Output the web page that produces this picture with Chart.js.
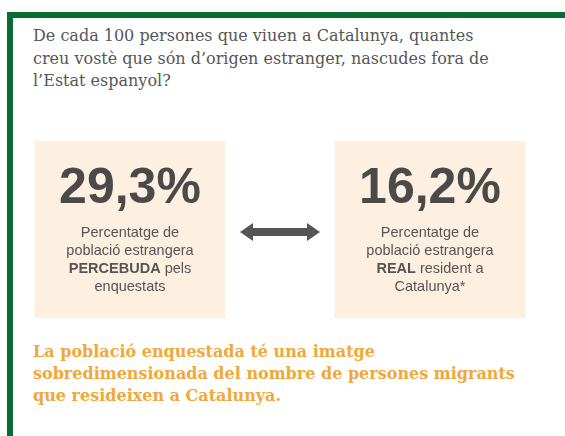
<!DOCTYPE html>
<html>
<head>
<meta charset="utf-8">
<script src="https://cdn.jsdelivr.net/npm/chart.js@4"></script>
<style>
  html, body { margin: 0; padding: 0; background: #fff; }
  body { width: 565px; height: 436px; position: relative; overflow: hidden; }
  #frame {
    position: absolute; left: 7px; top: 12px; width: 700px; height: 500px;
    border-left: 6px solid #0b6b34; border-top: 6px solid #0b6b34;
  }
  .txt {
    position: absolute; left: 33px; margin: 0;
    font-family: 'DejaVu Serif', serif; font-size: 16px; line-height: 22.5px;
  }
  #question { top: 25px; color: #565656; }
  #conclusion { top: 341px; color: #f0a83a; font-weight: bold; font-size: 16px; line-height: 22px; }
  #chartWrap { position: absolute; left: 0; top: 120px; width: 565px; height: 220px; }
</style>
</head>
<body>
<div id="frame"></div>
<p class="txt" id="question"></p>
<div id="chartWrap"><canvas id="compareChart" width="565" height="220"></canvas></div>
<p class="txt" id="conclusion"></p>

<script>
// 텍스트
const questionLines = [
  'De cada 100 persones que viuen a Catalunya, quantes',
  'creu vostè que són d’origen estranger, nascudes fora de',
  'l’Estat espanyol?'
];
const conclusionLines = [
  'La població enquestada té una imatge',
  'sobredimensionada del nombre de persones migrants',
  'que resideixen a Catalunya.'
];

// 데이터
const categories = ['PERCEBUDA', 'REAL'];
const values = [29.3, 16.2];
const descriptions = [
  ['Percentatge de', 'població estrangera', '**PERCEBUDA** pels', 'enquestats'],
  ['Percentatge de', 'població estrangera', '**REAL** resident a', 'Catalunya*']
];

document.getElementById('question').innerHTML = questionLines.join('<br>');
document.getElementById('conclusion').innerHTML = conclusionLines.join('<br>');

const textColor = '#4a4a4a';
const descColor = '#555555';

// 라벨 + 화살표 그리기
const labelPlugin = {
  id: 'boxLabels',
  afterDatasetsDraw(chart) {
    const ctx = chart.ctx;
    const meta = chart.getDatasetMeta(0);
    ctx.save();
    ctx.textBaseline = 'alphabetic';

    meta.data.forEach(function(bar, i) {
      const top = bar.y;
      const cx = bar.x;

      // 큰 숫자
      ctx.fillStyle = textColor;
      ctx.textAlign = 'center';
      ctx.font = 'bold 50px "Liberation Sans", Arial, sans-serif';
      ctx.fillText(values[i].toFixed(1).replace('.', ',') + '%', cx, top + 62);

      // 설명 (굵은 글씨 일부)
      descriptions[i].forEach(function(line, j) {
        const parts = line.split('**').filter(p => p !== '');
        const boldFirst = line.startsWith('**');
        const segs = parts.map((p, k) => ({ text: p, bold: boldFirst ? k % 2 === 0 : k % 2 === 1 }));
        let total = 0;
        segs.forEach(s => {
          ctx.font = (s.bold ? 'bold ' : '') + '14.5px "Liberation Sans", Arial, sans-serif';
          s.w = ctx.measureText(s.text).width;
          total += s.w;
        });
        let x = cx - total / 2;
        ctx.textAlign = 'left';
        ctx.fillStyle = descColor;
        segs.forEach(s => {
          ctx.font = (s.bold ? 'bold ' : '') + '14.5px "Liberation Sans", Arial, sans-serif';
          ctx.fillText(s.text, x, top + 96 + j * 18);
          x += s.w;
        });
      });
    });

    // 양방향 화살표
    const a = meta.data[0], b = meta.data[1];
    const x1 = a.x + a.width / 2 + 15;
    const x2 = b.x - b.width / 2 - 15;
    const y = a.y + 91;
    const head = 13, half = 9, shaft = 4;
    ctx.fillStyle = '#555555';
    ctx.beginPath();
    ctx.moveTo(x1, y);
    ctx.lineTo(x1 + head, y - half);
    ctx.lineTo(x1 + head, y - shaft);
    ctx.lineTo(x2 - head, y - shaft);
    ctx.lineTo(x2 - head, y - half);
    ctx.lineTo(x2, y);
    ctx.lineTo(x2 - head, y + half);
    ctx.lineTo(x2 - head, y + shaft);
    ctx.lineTo(x1 + head, y + shaft);
    ctx.lineTo(x1 + head, y + half);
    ctx.closePath();
    ctx.fill();
    ctx.restore();
  }
};

new Chart(document.getElementById('compareChart'), {
  type: 'bar',
  data: {
    labels: categories,
    datasets: [{
      data: categories.map(() => 1),
      backgroundColor: '#fdf0e1',
      borderWidth: 0,
      barThickness: 190,
      clip: false
    }]
  },
  options: {
    responsive: false,
    animation: false,
    layout: {
      padding: { left: 130, right: 135, top: 21, bottom: 22 }
    },
    plugins: {
      legend: { display: false },
      tooltip: { enabled: false },
      title: { display: false }
    },
    scales: {
      x: { display: false, offset: false },
      y: { display: false, min: 0, max: 1 }
    }
  },
  plugins: [labelPlugin]
});
</script>
</body>
</html>
